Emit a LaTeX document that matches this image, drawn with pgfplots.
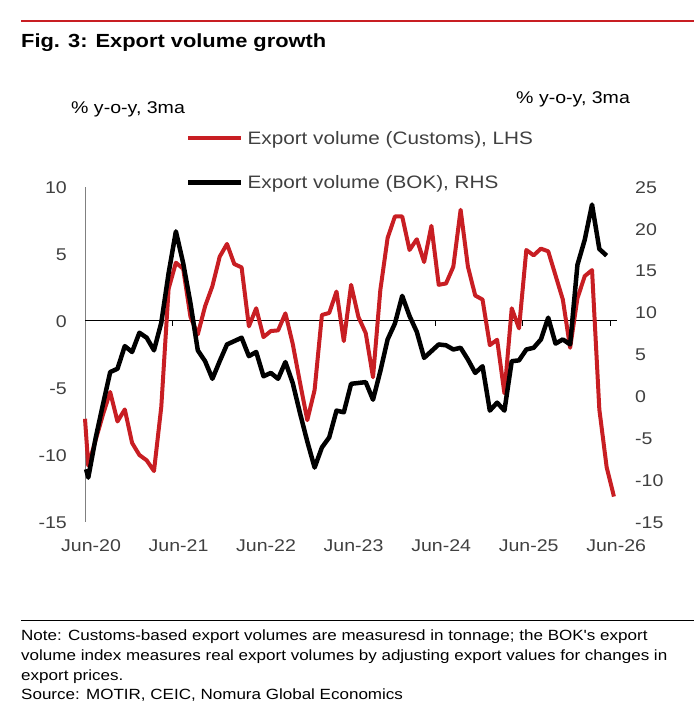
\documentclass[border=0pt]{standalone}
\usepackage{pgfplots}
\pgfplotsset{compat=1.18}
\usepackage{fontspec}
\setmainfont{Liberation Sans}[FakeStretch=1.15]
\newfontfamily\plainfont{Liberation Sans}[FakeStretch=1.15]
\definecolor{nred}{RGB}{200,30,35}
\definecolor{txtgray}{RGB}{64,64,64}
\pgfplotstableread{
k v
-0.45 -7.3
0 -10.8
1 -8.9
2 -7.0
3 -5.3
4 -7.5
5 -6.6
6 -9.1
7 -10.0
8 -10.4
9 -11.2
10 -6.4
11 2.4
12 4.35
13 3.9
14 0.3
15 -1.0
16 1.1
17 2.6
18 4.8
19 5.75
20 4.25
21 4.0
22 -0.4
23 0.95
24 -1.2
25 -0.75
26 -0.7
27 0.57
28 -1.7
29 -4.6
30 -7.4
31 -5.15
32 0.45
33 0.6
34 2.2
35 -1.5
36 2.7
37 0.3
38 -0.9
39 -4.2
40 2.3
41 6.2
42 7.8
43 7.8
44 5.3
45 6.1
46 4.4
47 7.1
48 2.7
49 2.8
50 4.05
51 8.3
52 4.05
53 1.9
54 1.6
55 -1.8
56 -1.4
57 -5.4
58 0.95
59 -0.55
60 5.3
61 4.9
62 5.4
63 5.2
64 3.4
65 1.6
66 -2.0
67 1.7
68 3.35
69 3.8
70 -6.6
71 -10.9
72 -13.1
}\customs
\pgfplotstableread{
k v
-0.3 -8.7
0 -9.7
1 -5.0
2 -1.0
3 2.9
4 3.3
5 6.0
6 5.3
7 7.6
8 7.0
9 5.5
10 8.8
11 14.7
12 19.7
13 15.9
14 11.1
15 5.5
16 4.2
17 2.1
18 4.2
19 6.2
20 6.6
21 7.0
22 4.8
23 5.3
24 2.4
25 2.8
26 2.1
27 4.1
28 1.6
29 -2.0
30 -5.4
31 -8.5
32 -6.1
33 -4.9
34 -1.7
35 -1.9
36 1.5
37 1.6
38 1.7
39 -0.4
40 3.0
41 6.8
42 8.7
43 12.0
44 9.6
45 7.7
46 4.6
47 5.4
48 6.2
49 6.1
50 5.6
51 5.8
52 4.4
53 2.8
54 3.6
55 -1.7
56 -0.75
57 -1.7
58 4.2
59 4.3
60 5.6
61 5.8
62 6.8
63 9.4
64 6.3
65 6.8
66 6.2
67 15.7
68 18.7
69 22.9
70 17.6
71 16.8
}\bok
\begin{document}
\begin{tikzpicture}
\useasboundingbox (0,0) rectangle (694bp,711bp);
\draw[nred, line width=2bp] (21bp,690bp) -- (694bp,690bp);
\node[anchor=base west, inner sep=0, font=\fontsize{19bp}{22bp}\selectfont\bfseries] at (21bp,663bp) {Fig. 3: Export volume growth};
\node[anchor=base west, inner sep=0, font=\fontsize{17bp}{20bp}\selectfont] at (71bp,597.5bp) {\% y-o-y, 3ma};
\node[anchor=base west, inner sep=0, font=\fontsize{17bp}{20bp}\selectfont] at (516bp,607bp) {\% y-o-y, 3ma};

\begin{axis}[
  at={(85bp,189bp)}, anchor=south west,
  scale only axis, width=532bp, height=335bp,
  xmin=-0.45, xmax=72.42, ymin=-15, ymax=10,
  axis x line*=bottom, axis y line*=left,
  x axis line style={draw=none},
  y axis line style={draw=gray, line width=1bp},
  major tick length=0pt,
  xtick={-0.45,11.54,23.53,35.52,47.51,59.5,71.49},
  xticklabels={Jun-20,Jun-21,Jun-22,Jun-23,Jun-24,Jun-25,Jun-26},
  ytick={-15,-10,-5,0,5,10},
  yticklabels={-15,-10,-5,0,5,10},
  tick label style={font=\fontsize{17bp}{20bp}\selectfont, text=txtgray, inner sep=0pt, text height=12.3bp, text depth=0pt},
  xticklabel style={anchor=north, yshift=-17bp, xshift=6bp},
  yticklabel style={anchor=east, xshift=-18bp},
  clip=false,
]
\draw[black, line width=1bp] (axis cs:-0.45,0) -- (axis cs:72.42,0);
\pgfplotsinvokeforeach{11.54,23.53,35.52,47.51,59.5,71.49}{
  \draw[black, line width=1bp] (axis cs:#1,0) -- ([yshift=-5bp]axis cs:#1,0);
}
\addplot[nred, line width=4bp, line join=round, no markers] table[x=k,y=v] {\customs};
\end{axis}

\begin{axis}[
  at={(85bp,189bp)}, anchor=south west,
  scale only axis, width=532bp, height=335bp,
  xmin=-0.45, xmax=72.42, ymin=-15, ymax=25,
  hide x axis,
  axis y line*=right,
  y axis line style={draw=none},
  major tick length=0pt,
  ytick={-15,-10,-5,0,5,10,15,20,25},
  yticklabels={-15,-10,-5,0,5,10,15,20,25},
  tick label style={font=\fontsize{17bp}{20bp}\selectfont, text=txtgray, inner sep=0pt, text height=12.3bp, text depth=0pt},
  yticklabel style={anchor=west, xshift=18bp},
  clip=false,
  legend image code/.code={\draw[#1] (0bp,0bp) -- (53bp,0bp);},
  legend style={at={(axis description cs:0.1898,1.1642)}, anchor=north west,
    draw=none, fill=none, inner xsep=0pt, inner ysep=0pt,
    nodes={inner sep=0pt, text height=12.5bp, text depth=0pt, anchor=west, text=txtgray,
      font=\fontsize{18bp}{20bp}\selectfont},
    column sep=4bp, row sep=31.5bp},
  legend cell align=left,
]
\addlegendimage{nred, line width=4bp}
\addlegendentry{Export volume (Customs), LHS}
\addplot[black, line width=4.5bp, line join=round, no markers] table[x=k,y=v] {\bok};
\addlegendentry{Export volume (BOK), RHS}
\end{axis}

\draw[black, line width=1.5bp] (21bp,90.3bp) -- (694bp,90.3bp);
\begin{scope}[every node/.style={anchor=base west, inner sep=0, font=\fontsize{14.8bp}{19.5bp}\selectfont}]
\node at (21bp,70bp) {Note: Customs-based export volumes are measuresd in tonnage; the BOK{\plainfont '}s export};
\node at (21bp,50.5bp) {volume index measures real export volumes by adjusting export values for changes in};
\node at (21bp,31bp) {export prices.};
\node at (21bp,11.5bp) {Source: MOTIR, CEIC, Nomura Global Economics};
\end{scope}
\end{tikzpicture}
\end{document}
